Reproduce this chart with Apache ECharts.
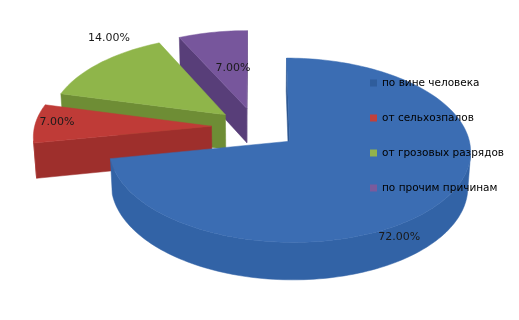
<!DOCTYPE html>
<html><head><meta charset="utf-8">
<script src="https://cdn.jsdelivr.net/npm/echarts@6/dist/echarts.min.js"></script>
<style>html,body{margin:0;padding:0;background:#fff}#c{width:519px;height:320px}</style>
</head><body><div id="c"></div>
<script>
// ---- data ----
const categories = ['по вине человека', 'от сельхозпалов', 'от грозовых разрядов', 'по прочим причинам'];
const shares = [72, 7, 14, 7];

// ---- styles ----
const topColors = ['#3b6db3', '#bf3b37', '#8fb54a', '#77569c'];
const wallColors = ['#3263a6', '#a93431', '#7a9b3c', '#654789'];
const faceColors = ['#2c5690', '#9e2f2c', '#6e8d35', '#583e79'];
const legendColors = ['#2f5d9c', '#c0413b', '#93b34c', '#7a5b9c'];
const explode = [0.25, 0.246, 0.22, 0.22];
const labelT = [0.581, 0.55, 0.758, 0.615];
const labelRho = [1.09, 0.88, 1.224, 0.503];
const drawOrder = [3, 2, 1, 0];
const view = { cx: 255, cy: 126.9, f: 1593, D: 9, tilt: 30 * Math.PI / 180, R: 1, h: 0.23 };

const total = shares.reduce((a, b) => a + b, 0);
const ca = Math.cos(view.tilt), sa = Math.sin(view.tilt);
function proj(X, Y, Z) {
  const yc = Y * ca + Z * sa;
  const zc = view.D + Z * ca - Y * sa;
  return [view.cx + view.f * X / zc, view.cy - view.f * yc / zc];
}
const cam = [0, view.D * sa, -view.D * ca];

function geom(i) {
  let acc = 0;
  for (let j = 0; j < i; j++) acc += shares[j];
  const a0 = acc / total * 2 * Math.PI, a1 = (acc + shares[i]) / total * 2 * Math.PI;
  const b = (a0 + a1) / 2;
  return { a0, a1, b, ox: explode[i] * Math.sin(b), oz: explode[i] * Math.cos(b) };
}

function renderSlice(i, order) {
  const g = geom(i), R = view.R, h = view.h;
  const P = (r, ang, Y) => proj(g.ox + r * R * Math.sin(ang), Y, g.oz + r * R * Math.cos(ang));
  const n = Math.max(4, Math.ceil((g.a1 - g.a0) / (Math.PI / 120)));
  const angs = [];
  for (let k = 0; k <= n; k++) angs.push(g.a0 + (g.a1 - g.a0) * k / n);
  const children = [];
  const base = order * 10;
  const faceVis = (nAng, ang) => {
    const nx = Math.sin(nAng), nz = Math.cos(nAng);
    const px = g.ox + 0.6 * R * Math.sin(ang), pz = g.oz + 0.6 * R * Math.cos(ang);
    return nx * (cam[0] - px) + nz * (cam[2] - pz) > 0;
  };
  [[g.a0, g.a0 - Math.PI / 2], [g.a1, g.a1 + Math.PI / 2]].forEach(([ang, nAng]) => {
    if (faceVis(nAng, ang)) {
      children.push({ type: 'polygon', z2: base + 1, shape: { points: [P(0, ang, 0), P(1, ang, 0), P(1, ang, -h), P(0, ang, -h)] },
        style: { fill: faceColors[i], stroke: faceColors[i], lineWidth: 0.5 } });
    }
  });
  let run = [];
  const flush = () => {
    if (run.length > 1) {
      const pts = run.map(a => P(1, a, 0)).concat(run.slice().reverse().map(a => P(1, a, -h)));
      children.push({ type: 'polygon', z2: base + 2, shape: { points: pts },
        style: { fill: wallColors[i], stroke: wallColors[i], lineWidth: 0.5 } });
    }
    run = [];
  };
  for (let k = 0; k < n; k++) {
    const m = (angs[k] + angs[k + 1]) / 2;
    const px = g.ox + R * Math.sin(m), pz = g.oz + R * Math.cos(m);
    const v = Math.sin(m) * (cam[0] - px) + Math.cos(m) * (cam[2] - pz) > 0;
    if (v) { if (run.length === 0) run.push(angs[k]); run.push(angs[k + 1]); }
    else flush();
  }
  flush();
  const topPts = [P(0, 0, 0)].concat(angs.map(a => P(1, a, 0)));
  children.push({ type: 'polygon', z2: base + 3, shape: { points: topPts },
    style: { fill: topColors[i], stroke: topColors[i], lineWidth: 0.5 } });
  const la = g.a0 + (g.a1 - g.a0) * labelT[i];
  const lp = P(labelRho[i], la, 0);
  children.push({ type: 'text', z2: 200, x: lp[0], y: lp[1],
    style: { text: (shares[i] / total * 100).toFixed(2) + '%', fill: '#1a1a1a', fontFamily: 'DejaVu Sans', fontSize: 11, align: 'center', verticalAlign: 'middle' } });
  return { type: 'group', children };
}

const chart = echarts.init(document.getElementById('c'), null, { renderer: 'canvas' });
chart.setOption({
  animation: false,
  legend: {
    orient: 'vertical', left: 365, top: 71.5, itemWidth: 7, itemHeight: 7, itemGap: 22, icon: 'rect',
    textStyle: { fontFamily: 'DejaVu Sans', fontSize: 10.5, lineHeight: 13, color: '#000' },
    data: categories
  },
  series: drawOrder.map((idx, order) => ({
    type: 'custom', name: categories[idx], coordinateSystem: 'none', silent: true,
    data: [shares[idx]],
    itemStyle: { color: legendColors[idx] },
    renderItem: () => renderSlice(idx, order)
  }))
});
</script></body></html>
